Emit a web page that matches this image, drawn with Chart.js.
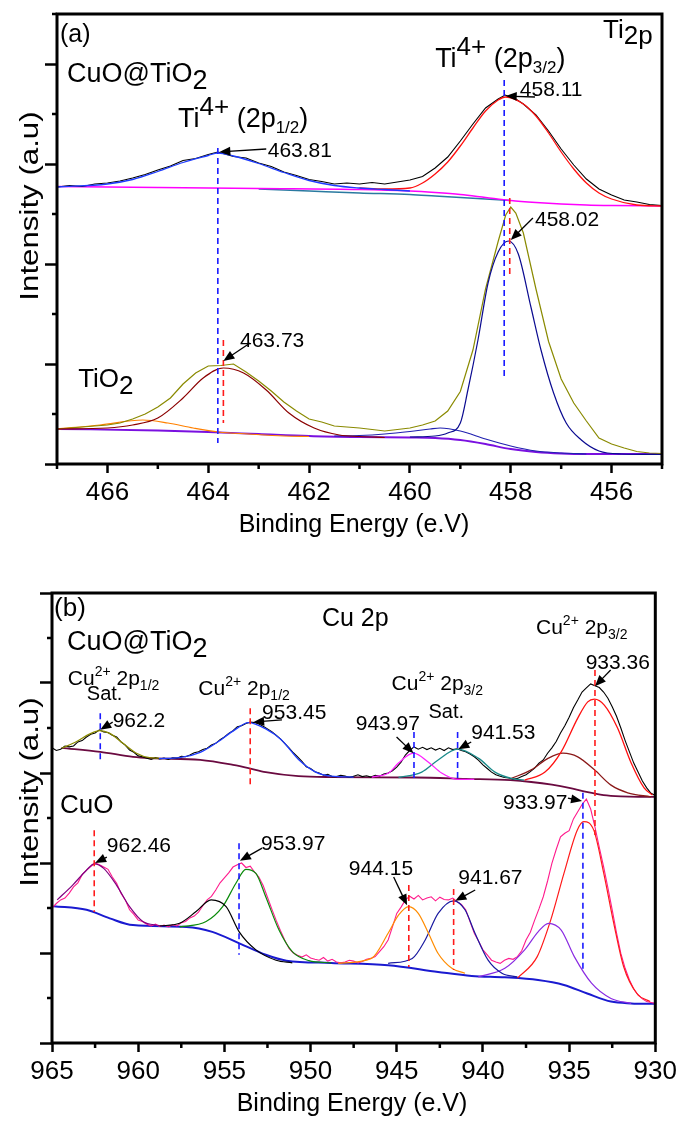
<!DOCTYPE html>
<html>
<head>
<meta charset="utf-8">
<script src="https://cdn.jsdelivr.net/npm/chart.js@4.4.1/dist/chart.umd.min.js"></script>
<style>
  html, body { margin: 0; padding: 0; background: #fff; }
  .panel { position: absolute; left: 0; }
  #panelA { top: 0; }
  #panelB { top: 560px; }
</style>
</head>
<body>
<canvas id="panelA" class="panel" width="681" height="560"></canvas>
<canvas id="panelB" class="panel" width="681" height="562"></canvas>
<script>
// ---------- panel (a): Ti 2p, [binding energy (eV), intensity (a.u.)] ----------
const tiCompositeRaw = [
  [467, 5.54], [466.75, 5.57], [466.5, 5.55], [466.25, 5.6], [466, 5.62], [465.75, 5.66],
  [465.5, 5.72], [465.25, 5.79], [465, 5.88], [464.75, 5.96], [464.5, 6.07], [464.25, 6.11],
  [464, 6.19], [463.81, 6.24], [463.5, 6.15], [463.25, 6.12], [463, 6.02], [462.75, 5.95],
  [462.5, 5.84], [462.25, 5.77], [462, 5.69], [461.75, 5.65], [461.5, 5.6], [461.25, 5.62],
  [461, 5.6], [460.75, 5.63], [460.5, 5.6], [460.25, 5.64], [460, 5.68], [459.75, 5.75],
  [459.5, 5.92], [459.25, 6.14], [459, 6.46], [458.75, 6.8], [458.5, 7.12], [458.25, 7.3],
  [458.11, 7.38], [457.9, 7.3], [457.75, 7.2], [457.5, 6.98], [457.25, 6.66], [457, 6.3],
  [456.75, 5.98], [456.5, 5.7], [456.25, 5.5], [456, 5.38], [455.75, 5.28], [455.5, 5.24],
  [455.25, 5.19], [455, 5.17]
];
const tiCompositeFit12 = [
  [467, 5.54], [466, 5.6], [465.5, 5.69], [465, 5.85], [464.5, 6.03], [464, 6.17], [463.81, 6.22],
  [463.5, 6.16], [463, 6.01], [462.5, 5.83], [462, 5.67], [461.5, 5.57], [461, 5.52], [460.5, 5.49], [460, 5.46]
];
const tiCompositeFit32 = [
  [461, 5.52], [460.5, 5.5], [460, 5.52], [459.75, 5.62], [459.5, 5.8], [459.25, 6.04], [459, 6.36],
  [458.75, 6.72], [458.5, 7.06], [458.25, 7.28], [458.1, 7.34], [457.75, 7.2], [457.5, 6.96],
  [457.25, 6.62], [457, 6.24], [456.75, 5.9], [456.5, 5.62], [456.25, 5.42], [456, 5.3], [455.5, 5.18], [455, 5.16]
];
const tiCompositeBg = [
  [467, 5.55], [465, 5.53], [463, 5.51], [461, 5.49], [460, 5.46], [459.5, 5.43], [459, 5.39],
  [458.5, 5.33], [458, 5.27], [457.5, 5.23], [457, 5.2], [456.5, 5.18], [456, 5.17], [455, 5.16]
];
const tiCompositeBg2 = [
  [463, 5.5], [462, 5.46], [461, 5.42], [460, 5.39], [459.5, 5.36], [459, 5.33], [458.5, 5.3], [458, 5.27]
];
const tiPureRaw = [
  [467, 0.7], [466.5, 0.74], [466, 0.78], [465.75, 0.82], [465.5, 0.9], [465.25, 1.0], [465, 1.14],
  [464.75, 1.32], [464.5, 1.6], [464.25, 1.82], [464, 1.96], [463.75, 1.97], [463.5, 2.0],
  [463.25, 1.84], [463, 1.66], [462.75, 1.46], [462.5, 1.24], [462.25, 1.06], [462, 0.9],
  [461.75, 0.84], [461.5, 0.76], [461, 0.72], [460.5, 0.66], [460, 0.72], [459.75, 0.78],
  [459.5, 0.86], [459.25, 1.06], [459, 1.45], [458.75, 2.28], [458.5, 3.5], [458.25, 4.45],
  [458.1, 4.98], [458, 5.14], [457.9, 5.02], [457.75, 4.62], [457.5, 3.5], [457.25, 2.45],
  [457, 1.7], [456.75, 1.22], [456.5, 0.86], [456.25, 0.52], [456, 0.4], [455.75, 0.32],
  [455.5, 0.25], [455.25, 0.22], [455, 0.21]
];
const tiPureFit12 = [
  [467, 0.7], [466, 0.72], [465.5, 0.78], [465, 0.92], [464.5, 1.32], [464.1, 1.72], [463.7, 1.92],
  [463.3, 1.82], [462.85, 1.48], [462.4, 1.02], [461.9, 0.72], [461.4, 0.58], [461, 0.55], [460.5, 0.53]
];
const tiPureShoulder = [
  [467, 0.7], [466.15, 0.78], [465.3, 0.88], [464.8, 0.82], [464.3, 0.72], [463.8, 0.64],
  [463.2, 0.6], [462.5, 0.56], [462, 0.55]
];
const tiPureFit32 = [
  [460, 0.54], [459.5, 0.56], [459.25, 0.62], [459, 0.82], [458.85, 1.48], [458.65, 2.48],
  [458.45, 3.62], [458.25, 4.24], [458.05, 4.46], [457.85, 4.2], [457.6, 3.14], [457.4, 2.28],
  [457.15, 1.42], [456.9, 0.82], [456.6, 0.48], [456.25, 0.26], [455.8, 0.2], [455, 0.19]
];
const tiPureBroad = [
  [461.5, 0.56], [461, 0.57], [460.5, 0.6], [460, 0.65], [459.6, 0.7], [459.4, 0.72], [459, 0.66],
  [458.5, 0.5], [458, 0.36], [457.5, 0.26], [457, 0.22], [456.5, 0.2]
];
const tiPureBg = [
  [467, 0.7], [465, 0.67], [464, 0.64], [463, 0.6], [462, 0.56], [461, 0.54], [460, 0.53],
  [459.5, 0.52], [459, 0.48], [458.5, 0.4], [458, 0.3], [457.5, 0.24], [457, 0.21], [456.5, 0.2],
  [456, 0.2], [455, 0.2]
];
// peak markers: [energy, top, bottom]
const tiMarkersBlue = [[463.81, 6.32, 0.42], [458.13, 7.68, 1.72]];
const tiMarkersRed = [[463.7, 2.48, 0.82], [458.02, 5.32, 3.72]];

// ---------- panel (b): Cu 2p ----------
const cuCompositeRaw = [
  [965, 6.56], [964.75, 6.5], [964.5, 6.53], [964.25, 6.6], [964, 6.58], [963.75, 6.6], [963.5, 6.69],
  [963.25, 6.72], [963, 6.8], [962.75, 6.86], [962.5, 6.89], [962.25, 6.96], [962, 6.91], [961.75, 6.9],
  [961.5, 6.84], [961.25, 6.8], [961, 6.69], [960.75, 6.62], [960.5, 6.51], [960.25, 6.46], [960, 6.38],
  [959.75, 6.36], [959.5, 6.33], [959.25, 6.3], [959, 6.34], [958.75, 6.31], [958.5, 6.33], [958.25, 6.3],
  [958, 6.34], [957.75, 6.33], [957.5, 6.37], [957.25, 6.36], [957, 6.4], [956.75, 6.45], [956.5, 6.47],
  [956.25, 6.52], [956, 6.55], [955.75, 6.62], [955.5, 6.66], [955.25, 6.74], [955, 6.8], [954.75, 6.88],
  [954.5, 6.94], [954.25, 7.03], [954, 7.05], [953.75, 7.1], [953.5, 7.13], [953.25, 7.12], [953, 7.09],
  [952.75, 7.04], [952.5, 6.98], [952.25, 6.92], [952, 6.84], [951.75, 6.76], [951.5, 6.66], [951.25, 6.56],
  [951, 6.45], [950.75, 6.36], [950.5, 6.26], [950.25, 6.14], [950, 6.1], [949.75, 6.03], [949.5, 6.0],
  [949.25, 5.95], [949, 5.97], [948.75, 5.92], [948.5, 5.92], [948.25, 5.95], [948, 5.93], [947.75, 5.9],
  [947.5, 5.93], [947.25, 5.96], [947, 5.92], [946.75, 5.94], [946.5, 5.91], [946.25, 5.95], [946, 5.93],
  [945.75, 5.98], [945.5, 6.0], [945.25, 6.05], [945, 6.13], [944.75, 6.24], [944.5, 6.4], [944.25, 6.5],
  [944, 6.58], [943.75, 6.53], [943.5, 6.57], [943.25, 6.52], [943, 6.56], [942.75, 6.51], [942.5, 6.55],
  [942.25, 6.5], [942, 6.56], [941.75, 6.52], [941.5, 6.54], [941.25, 6.5], [941, 6.47], [940.75, 6.42],
  [940.5, 6.36], [940.25, 6.28], [940, 6.18], [939.75, 6.1], [939.5, 6.02], [939.25, 5.96], [939, 5.93],
  [938.75, 5.9], [938.5, 5.89], [938.25, 5.86], [938, 5.88], [937.75, 5.92], [937.5, 5.96], [937.25, 6.03],
  [937, 6.11], [936.75, 6.22], [936.5, 6.29], [936.25, 6.44], [936, 6.56], [935.75, 6.7], [935.5, 6.89],
  [935.25, 7.05], [935, 7.24], [934.75, 7.45], [934.5, 7.62], [934.25, 7.8], [934, 7.89], [933.75, 7.98],
  [933.5, 7.94], [933.25, 7.9], [933, 7.8], [932.75, 7.66], [932.5, 7.47], [932.25, 7.26], [932, 7.0],
  [931.75, 6.72], [931.5, 6.47], [931.25, 6.22], [931, 6.02], [930.75, 5.82], [930.5, 5.67], [930.25, 5.55],
  [930, 5.5]
];
const cuCompositeSat12 = [
  [964.44, 6.55], [963.57, 6.7], [962.8, 6.87], [962.23, 6.94], [961.65, 6.88], [960.88, 6.66],
  [960.1, 6.44], [959.34, 6.34], [958.8, 6.33]
];
const cuCompositeFit12 = [
  [958.8, 6.32], [957.6, 6.34], [956.4, 6.46], [955.5, 6.66], [954.5, 6.93], [953.6, 7.12], [952.6, 6.98],
  [951.7, 6.74], [950.7, 6.3], [949.7, 6.02], [948.8, 5.93], [947.5, 5.91]
];
const cuCompositeSatA = [
  [946.45, 5.91], [945.47, 6.0], [944.9, 6.22], [944.03, 6.44], [943.16, 6.24], [942.4, 6.0],
  [941.47, 5.86], [940.5, 5.86]
];
const cuCompositeSatB = [
  [944.9, 5.9], [943.55, 6.02], [942.6, 6.29], [941.47, 6.53], [940.27, 6.33], [939.3, 6.02],
  [938.35, 5.88], [937.6, 5.84]
];
const cuCompositeBroad = [
  [938.35, 5.88], [937.2, 6.07], [936.2, 6.33], [935.36, 6.44], [934.5, 6.36], [933.53, 6.07],
  [932.57, 5.73], [931.6, 5.56], [930.26, 5.47]
];
const cuCompositeFit32 = [
  [937.58, 5.84], [936.4, 6.02], [935.46, 6.47], [934.5, 7.22], [933.92, 7.58], [933.53, 7.64],
  [932.96, 7.51], [932.19, 7.0], [931.42, 6.24], [930.65, 5.67], [930.16, 5.51]
];
const cuCompositeBg = [
  [964.44, 6.56], [962.2, 6.47], [960.3, 6.36], [959.3, 6.33], [956.4, 6.29], [954.5, 6.18],
  [953.6, 6.11], [952.6, 6.02], [950.7, 5.93], [948.8, 5.91], [943.9, 5.9], [941, 5.87], [938.4, 5.84],
  [937.2, 5.8], [936, 5.74], [935, 5.67], [934, 5.58], [933, 5.51], [932, 5.48], [931, 5.47], [930, 5.47]
];
const cuOxideRaw = [
  [965, 3.0], [964.75, 3.1], [964.5, 3.18], [964.25, 3.22], [964, 3.33], [963.75, 3.47], [963.5, 3.56],
  [963.25, 3.74], [963, 3.84], [962.75, 3.92], [962.5, 4.0], [962.25, 3.96], [962, 3.91], [961.75, 3.86],
  [961.5, 3.69], [961.25, 3.55], [961, 3.33], [960.75, 3.18], [960.5, 2.96], [960.25, 2.86], [960, 2.73],
  [959.75, 2.7], [959.5, 2.64], [959.25, 2.6], [959, 2.64], [958.75, 2.59], [958.5, 2.62], [958.25, 2.58],
  [958, 2.63], [957.75, 2.6], [957.5, 2.67], [957.25, 2.7], [957, 2.78], [956.75, 2.82], [956.5, 2.91],
  [956.25, 3.05], [956, 3.18], [955.75, 3.26], [955.5, 3.4], [955.25, 3.56], [955, 3.67], [954.75, 3.78],
  [954.5, 3.91], [954.25, 3.96], [954, 4.0], [953.75, 3.9], [953.5, 3.93], [953.25, 3.8], [953, 3.69],
  [952.75, 3.5], [952.5, 3.24], [952.25, 2.98], [952, 2.73], [951.75, 2.5], [951.5, 2.29], [951.25, 2.1],
  [951, 2.0], [950.75, 1.95], [950.5, 1.91], [950.25, 1.96], [950, 1.89], [949.75, 1.86], [949.5, 1.84],
  [949.25, 1.9], [949, 1.82], [948.75, 1.86], [948.5, 1.8], [948.25, 1.78], [948, 1.8], [947.75, 1.84],
  [947.5, 1.82], [947.25, 1.78], [947, 1.81], [946.75, 1.86], [946.5, 1.88], [946.25, 1.92], [946, 2.03],
  [945.75, 2.14], [945.5, 2.29], [945.25, 2.58], [945, 2.88], [944.75, 3.02], [944.5, 3.18], [944.25, 3.26],
  [944, 3.2], [943.75, 3.28], [943.5, 3.18], [943.25, 3.22], [943, 3.25], [942.75, 3.16], [942.5, 3.24],
  [942.25, 3.19], [942, 3.18], [941.75, 3.22], [941.5, 3.14], [941.25, 3.08], [941, 2.96], [940.75, 2.7],
  [940.5, 2.44], [940.25, 2.26], [940, 2.07], [939.75, 1.96], [939.5, 1.84], [939.25, 1.8], [939, 1.77],
  [938.75, 1.84], [938.5, 1.88], [938.25, 1.86], [938, 1.92], [937.75, 2.05], [937.5, 2.29], [937.25, 2.46],
  [937, 2.73], [936.75, 2.98], [936.5, 3.25], [936.25, 3.6], [936, 3.99], [935.75, 4.3], [935.5, 4.58],
  [935.25, 4.66], [935, 4.72], [934.75, 4.98], [934.5, 5.14], [934.25, 5.3], [934, 5.42], [933.75, 5.2],
  [933.5, 4.8], [933.25, 4.35], [933, 3.92], [932.75, 3.45], [932.5, 2.96], [932.25, 2.45], [932, 1.99],
  [931.75, 1.66], [931.5, 1.4], [931.25, 1.2], [931, 1.07], [930.75, 0.98], [930.5, 0.92], [930.25, 0.9],
  [930, 0.88]
];
const cuOxideSat12 = [
  [964.7, 3.18], [963.8, 3.51], [963, 3.84], [962.55, 3.98], [962, 3.88], [961.26, 3.51], [960.5, 3.03],
  [959.73, 2.7], [958.76, 2.61]
];
const cuOxideShoulder12 = [
  [958.76, 2.6], [957.6, 2.66], [956.64, 2.92], [955.77, 3.18], [954.9, 3.03], [954.14, 2.47],
  [953.17, 2.07], [952, 1.84], [951.06, 1.78]
];
const cuOxideFit12 = [
  [957.6, 2.58], [956.06, 2.7], [955.1, 3.03], [954.33, 3.55], [953.75, 3.86], [953.17, 3.77],
  [952.6, 3.25], [951.83, 2.51], [951.06, 2.03], [950.1, 1.83], [948.8, 1.78]
];
const cuOxideSatA = [
  [948.4, 1.77], [946.47, 1.88], [945.5, 2.44], [944.9, 2.84], [944.3, 3.03], [943.75, 2.88],
  [943.16, 2.44], [942.6, 1.99], [941.8, 1.66], [941.04, 1.55]
];
const cuOxideSatB = [
  [945.5, 1.77], [944.1, 1.88], [943.35, 2.29], [942.6, 2.88], [941.7, 3.16], [941.04, 2.96],
  [940.46, 2.44], [939.7, 1.84], [938.9, 1.55], [938, 1.47]
];
const cuOxideBroad = [
  [940.27, 1.47], [938.73, 1.66], [937.58, 2.07], [936.8, 2.47], [936.2, 2.66], [935.46, 2.51],
  [934.7, 1.92], [933.7, 1.33], [932.57, 0.99], [931.4, 0.88]
];
const cuOxideFit32 = [
  [938, 1.44], [936.85, 1.92], [936.07, 2.73], [935.3, 3.77], [934.53, 4.73], [934.15, 4.92],
  [933.57, 4.73], [932.99, 3.77], [932.41, 2.66], [931.84, 1.7], [931.07, 1.1], [930.3, 0.92]
];
const cuOxideBg = [
  [964.9, 3.04], [963, 2.96], [961.65, 2.77], [960.3, 2.62], [957.2, 2.58], [955.7, 2.47], [954.1, 2.21],
  [952.6, 1.96], [951.4, 1.83], [948.8, 1.78], [945.5, 1.73], [942.6, 1.58], [940.65, 1.49],
  [938.73, 1.46], [936.8, 1.4], [935.3, 1.29], [933.95, 1.1], [932.57, 0.92], [931.4, 0.88], [930, 0.87]
];
const cuMarkersBlue = [[962.2, 7.33, 6.24], [944.0, 6.91, 5.84], [941.47, 6.91, 5.84], [954.15, 4.44, 1.96], [934.2, 5.56, 1.62]];
const cuMarkersRed = [[953.5, 7.44, 5.67], [933.5, 8.29, 4.62], [962.55, 4.73, 2.91], [944.3, 3.51, 1.69], [941.7, 3.42, 1.62]];

const FONT = '"Liberation Sans", Arial, sans-serif';

// ---------- helpers ----------
function series(points, color, width, smooth) {
  return {
    data: points.map(([e, v]) => ({ x: e, y: v })),
    borderColor: color,
    borderWidth: width,
    pointRadius: 0,
    fill: false,
    tension: 0,
    cubicInterpolationMode: smooth ? 'monotone' : 'default',
  };
}

function markers(list, color) {
  return list.map(([e, top, bottom]) => ({
    data: [{ x: e, y: top }, { x: e, y: bottom }],
    borderColor: color,
    borderWidth: 1.6,
    borderDash: [6, 4],
    pointRadius: 0,
    fill: false,
  }));
}

// text made of runs: [text, size, dy]
function drawRuns(ctx, x, y, runs) {
  runs.forEach(([text, size, dy]) => {
    ctx.font = size + 'px ' + FONT;
    ctx.fillText(text, x, y + (dy || 0));
    x += ctx.measureText(text).width;
  });
}

function drawArrow(ctx, x0, y0, x1, y1) {
  const ang = Math.atan2(y1 - y0, x1 - x0);
  const len = 11, half = 4.5;
  ctx.beginPath();
  ctx.moveTo(x0, y0);
  ctx.lineTo(x1 - Math.cos(ang) * len * 0.8, y1 - Math.sin(ang) * len * 0.8);
  ctx.lineWidth = 1.3;
  ctx.stroke();
  ctx.beginPath();
  ctx.moveTo(x1, y1);
  ctx.lineTo(x1 - Math.cos(ang) * len - Math.sin(ang) * half, y1 - Math.sin(ang) * len + Math.cos(ang) * half);
  ctx.lineTo(x1 - Math.cos(ang) * len + Math.sin(ang) * half, y1 - Math.sin(ang) * len - Math.cos(ang) * half);
  ctx.closePath();
  ctx.fill();
}

// frame, minor ticks, annotations and axis titles
const decorPlugin = {
  id: 'decor',
  afterDraw(chart, args, opts) {
    const { ctx, chartArea: a, scales: { x, y } } = chart;
    ctx.save();
    ctx.strokeStyle = '#000';
    ctx.fillStyle = '#000';
    ctx.lineWidth = 2.5;
    ctx.beginPath();
    x.ticks.forEach((t, i) => {
      if (opts.majorX(t.value)) return;
      const px = x.getPixelForTick(i);
      ctx.moveTo(px, a.bottom);
      ctx.lineTo(px, a.bottom + 5);
    });
    y.ticks.forEach((t, i) => {
      if (t.value % 2 === 0) return;
      const py = y.getPixelForTick(i);
      ctx.moveTo(a.left, py);
      ctx.lineTo(a.left - 5, py);
    });
    ctx.stroke();
    ctx.lineWidth = 3;
    ctx.strokeRect(a.left, a.top, a.right - a.left, a.bottom - a.top);

    ctx.textAlign = 'left';
    ctx.textBaseline = 'alphabetic';
    opts.labels.forEach(l => drawRuns(ctx, x.getPixelForValue(l.e), y.getPixelForValue(l.v), l.runs));
    opts.arrows.forEach(([e0, v0, e1, v1]) =>
      drawArrow(ctx, x.getPixelForValue(e0), y.getPixelForValue(v0), x.getPixelForValue(e1), y.getPixelForValue(v1)));

    ctx.font = '25px ' + FONT;
    ctx.textAlign = 'center';
    ctx.textBaseline = 'middle';
    ctx.fillText('Binding Energy (e.V)', opts.xTitleX, a.bottom + opts.xTitleGap);
    // the y title in the source is drawn stretched along its length
    ctx.translate(opts.yTitleX, opts.yTitleY);
    ctx.rotate(-Math.PI / 2);
    ctx.scale(1.25, 1);
    ctx.fillText('Intensity (a.u)', 0, 0);
    ctx.restore();
  }
};

function makeScales(xMin, xMax, xStep, majorX, yMax, leftW, bottomH) {
  return {
    x: {
      type: 'linear', reverse: true, min: xMin, max: xMax,
      border: { display: false },
      grid: {
        drawOnChartArea: false, tickLength: 9, tickWidth: 2.5,
        tickColor: c => (c.tick && majorX(c.tick.value)) ? '#000' : 'rgba(0,0,0,0)',
      },
      ticks: {
        stepSize: xStep, autoSkip: false, maxRotation: 0, padding: 4, color: '#000',
        font: { family: FONT, size: 26 },
        callback: v => majorX(v) ? String(v) : '',
      },
      afterFit: s => { s.height = bottomH; },
    },
    y: {
      type: 'linear', min: 0, max: yMax,
      border: { display: false },
      grid: {
        drawOnChartArea: false, tickLength: 12, tickWidth: 2.5,
        tickColor: c => (c.tick && c.tick.value % 2 === 0) ? '#000' : 'rgba(0,0,0,0)',
      },
      ticks: { stepSize: 1, display: false },
      afterFit: s => { s.width = leftW; },
    },
  };
}

const baseOptions = {
  responsive: false,
  animation: false,
  devicePixelRatio: 1,
  plugins: { legend: { display: false }, tooltip: { enabled: false } },
};

// superscript / subscript label pieces
const tiLabel = sub => [['Ti', 27], ['4+', 26, -12], [' (2p', 27], [sub, 17, 6], [')', 27]];
const cuLabel = sub => [['Cu', 21], ['2+', 14, -9], [' 2p', 21], [sub, 14, 5]];

// ---------- panel (a) ----------
const majorA = v => Math.round(v) % 2 === 0;
new Chart(document.getElementById('panelA'), {
  type: 'line',
  data: {
    datasets: [
      ...markers(tiMarkersBlue, '#1a1aff'),
      ...markers(tiMarkersRed, '#ff1a1a'),
      series(tiCompositeFit12, '#1f3cff', 1.3, true),
      series(tiCompositeFit32, '#ff1010', 1.3, true),
      series(tiCompositeRaw, '#000000', 1.1, false),
      series(tiCompositeBg, '#ff00ff', 1.5, true),
      series(tiCompositeBg2, '#2a7aa0', 1.5, true),
      series(tiPureFit32, '#0a0a90', 1.2, true),
      series(tiPureFit12, '#8b0000', 1.2, true),
      series(tiPureRaw, '#8a8a00', 1.2, false),
      series(tiPureShoulder, '#ff8000', 1.2, true),
      series(tiPureBroad, '#2020b0', 1.2, true),
      series(tiPureBg, '#7a10e0', 1.8, true),
    ],
  },
  options: {
    ...baseOptions,
    layout: { padding: { left: 0, top: 14, right: 19, bottom: 0 } },
    scales: makeScales(455, 467, 1, majorA, 9, 57, 96),
    plugins: {
      ...baseOptions.plugins,
      decor: {
        majorX: majorA,
        xTitleX: 354, xTitleGap: 61, yTitleX: 31, yTitleY: 206,
        labels: [
          { e: 466.94, v: 8.44, runs: [['(a)', 25]] },
          { e: 466.8, v: 7.64, runs: [['CuO@TiO', 27], ['2', 27, 7]] },
          { e: 464.6, v: 6.74, runs: tiLabel('1/2') },
          { e: 459.5, v: 7.94, runs: tiLabel('3/2') },
          { e: 456.17, v: 8.52, runs: [['Ti', 26], ['2p', 26, 6]] },
          { e: 466.58, v: 1.54, runs: [['TiO', 26], ['2', 26, 7]] },
          { e: 462.82, v: 6.14, runs: [['463.81', 21]] },
          { e: 457.82, v: 7.36, runs: [['458.11', 21]] },
          { e: 457.52, v: 4.76, runs: [['458.02', 21]] },
          { e: 463.37, v: 2.34, runs: [['463.73', 21]] },
        ],
        arrows: [
          [462.85, 6.3, 463.78, 6.24],
          [457.52, 7.34, 458.1, 7.36],
          [457.56, 4.92, 458.0, 4.48],
          [463.17, 2.42, 463.7, 2.06],
        ],
      },
    },
  },
  plugins: [decorPlugin],
});

// ---------- panel (b) ----------
const majorB = v => Math.round(v * 10) % 50 === 0;
new Chart(document.getElementById('panelB'), {
  type: 'line',
  data: {
    datasets: [
      ...markers(cuMarkersBlue, '#1a1aff'),
      ...markers(cuMarkersRed, '#ff1a1a'),
      series(cuCompositeSat12, '#8a8a00', 1.3, true),
      series(cuCompositeFit12, '#1f3cff', 1.3, true),
      series(cuCompositeSatA, '#ff20ff', 1.3, true),
      series(cuCompositeSatB, '#1a8a8a', 1.3, true),
      series(cuCompositeFit32, '#ff1010', 1.3, true),
      series(cuCompositeBroad, '#8b1a1a', 1.3, true),
      series(cuCompositeRaw, '#000000', 1.1, false),
      series(cuCompositeBg, '#6a0a40', 1.8, true),
      series(cuOxideSat12, '#800080', 1.2, true),
      series(cuOxideShoulder12, '#000000', 1.2, true),
      series(cuOxideFit12, '#0a8a0a', 1.2, true),
      series(cuOxideSatA, '#ff8c00', 1.2, true),
      series(cuOxideSatB, '#1a1aa0', 1.2, true),
      series(cuOxideBroad, '#8a2be2', 1.2, true),
      series(cuOxideFit32, '#ff1a1a', 1.2, true),
      series(cuOxideRaw, '#ff1a8c', 1.1, false),
      series(cuOxideBg, '#1a1ad0', 2.0, true),
    ],
  },
  options: {
    ...baseOptions,
    layout: { padding: { left: 0, top: 33, right: 23, bottom: 0 } },
    scales: makeScales(930, 965, 2.5, majorB, 10, 52, 79),
    plugins: {
      ...baseOptions.plugins,
      decor: {
        majorX: majorB,
        xTitleX: 352, xTitleGap: 61, yTitleX: 31, yTitleY: 232,
        labels: [
          { e: 964.88, v: 9.49, runs: [['(b)', 26]] },
          { e: 949.34, v: 9.27, runs: [['Cu 2p', 25]] },
          { e: 964.13, v: 8.73, runs: [['CuO@TiO', 27], ['2', 27, 7]] },
          { e: 964.08, v: 7.96, runs: cuLabel('1/2') },
          { e: 962.98, v: 7.62, runs: [['Sat.', 20]] },
          { e: 956.51, v: 7.73, runs: cuLabel('1/2') },
          { e: 945.3, v: 7.84, runs: cuLabel('3/2') },
          { e: 943.16, v: 7.22, runs: [['Sat.', 20]] },
          { e: 936.92, v: 9.09, runs: cuLabel('3/2') },
          { e: 961.48, v: 7.02, runs: [['962.2', 21]] },
          { e: 952.81, v: 7.2, runs: [['953.45', 21]] },
          { e: 947.38, v: 6.96, runs: [['943.97', 21]] },
          { e: 940.68, v: 6.76, runs: [['941.53', 21]] },
          { e: 934.04, v: 8.31, runs: [['933.36', 21]] },
          { e: 938.83, v: 5.2, runs: [['933.97', 21]] },
          { e: 964.54, v: 5.11, runs: [['CuO', 26]] },
          { e: 961.82, v: 4.24, runs: [['962.46', 21]] },
          { e: 952.87, v: 4.29, runs: [['953.97', 21]] },
          { e: 947.78, v: 3.73, runs: [['944.15', 21]] },
          { e: 941.43, v: 3.53, runs: [['941.67', 21]] },
        ],
        arrows: [
          [961.48, 7.13, 962.2, 6.96],
          [951.66, 7.18, 953.33, 7.13],
          [945.01, 6.8, 944.03, 6.44],
          [940.68, 6.69, 941.43, 6.53],
          [932.59, 8.29, 933.5, 7.93],
          [935.07, 5.44, 934.25, 5.38],
          [961.82, 4.13, 962.5, 4.0],
          [952.81, 4.33, 954.1, 4.05],
          [945.18, 3.69, 944.4, 3.06],
          [940.45, 3.4, 941.6, 3.16],
        ],
      },
    },
  },
  plugins: [decorPlugin],
});
</script>
</body>
</html>
